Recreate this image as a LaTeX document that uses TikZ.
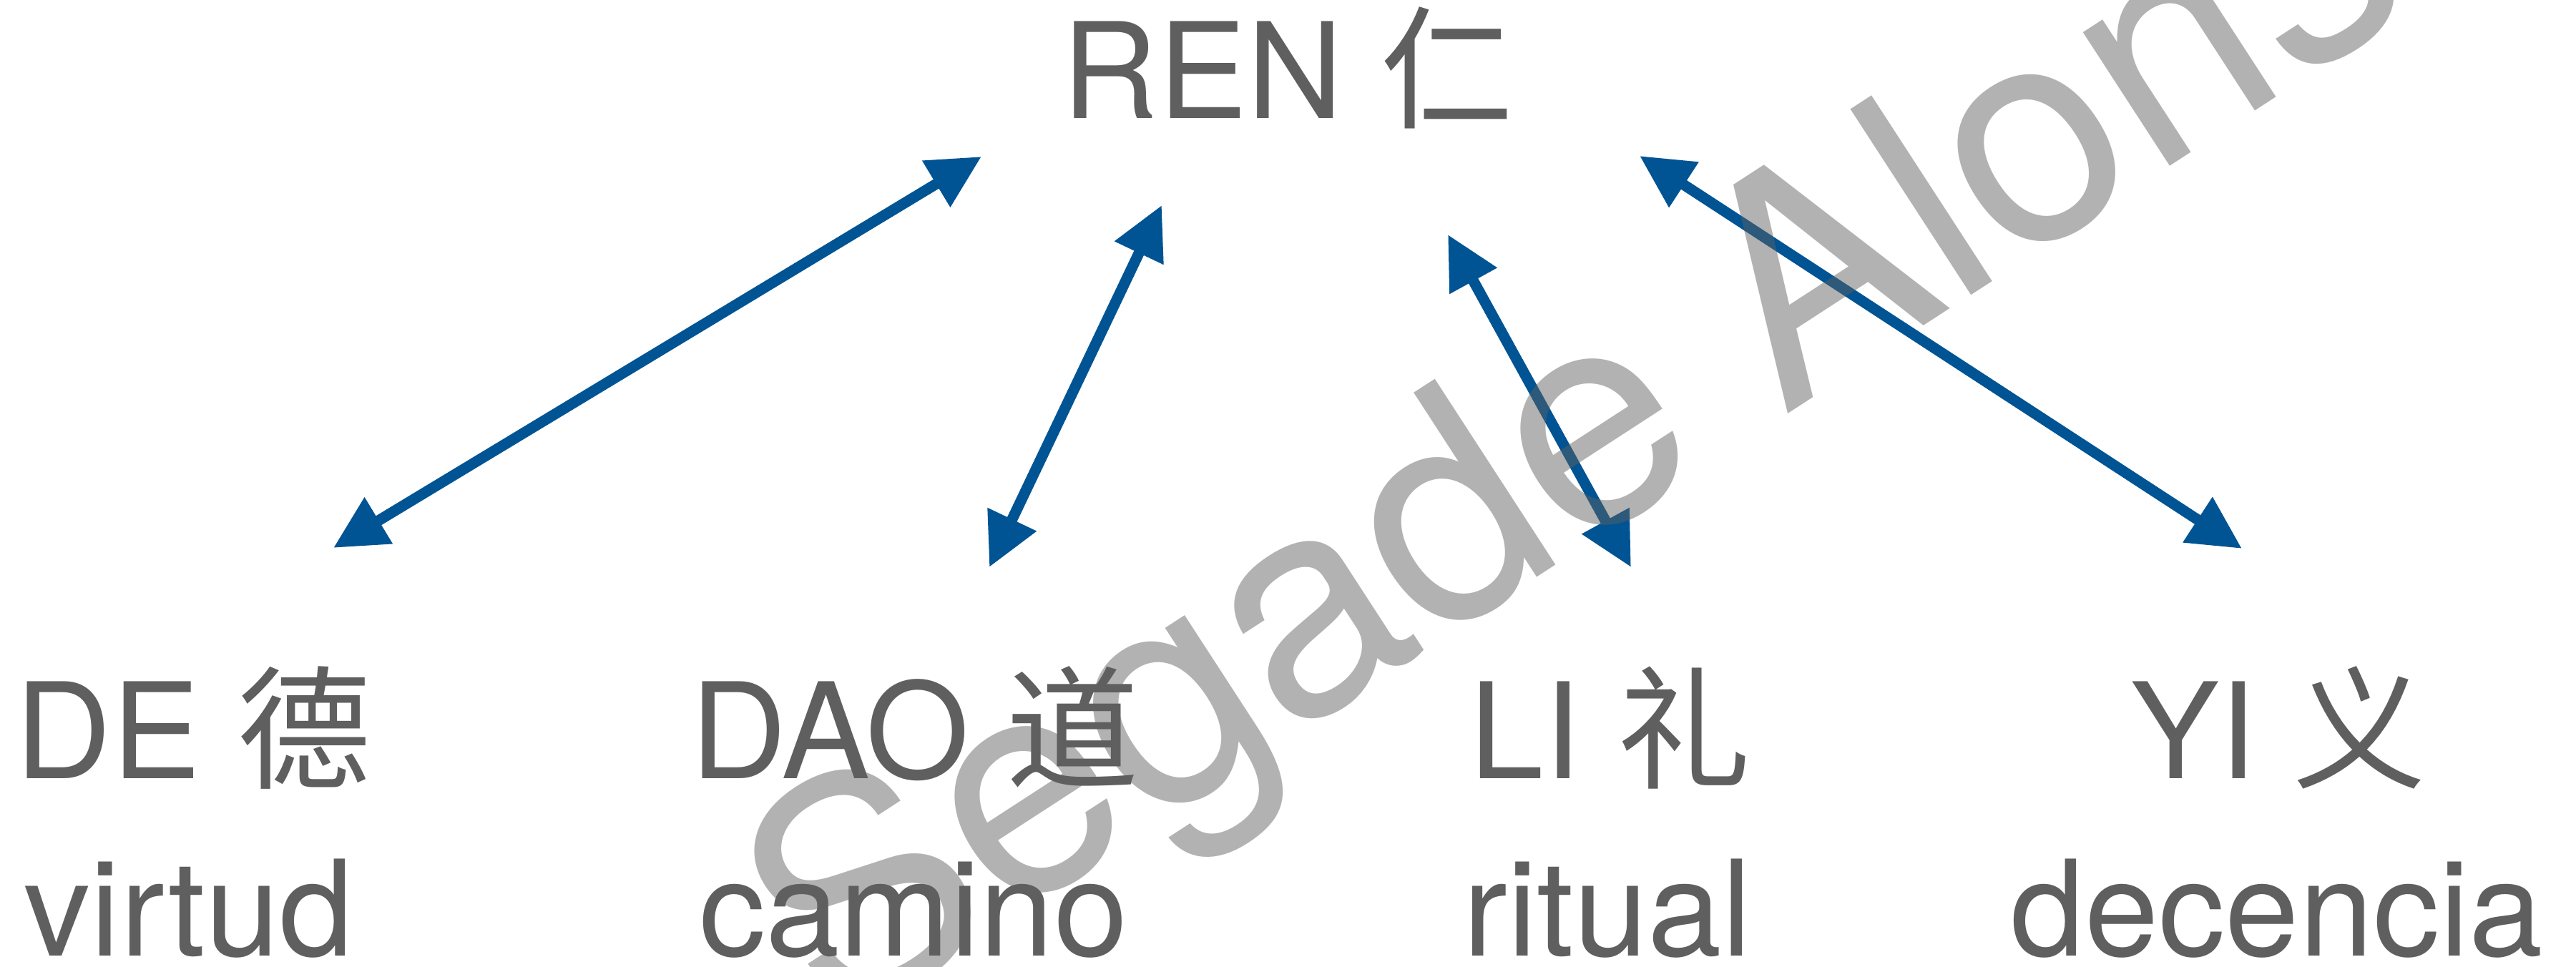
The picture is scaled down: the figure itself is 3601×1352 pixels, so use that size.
\documentclass[tikz,border=0pt]{standalone}
\usepackage{fontspec}
\setmainfont{TeX Gyre Heros}
\newfontfamily\cjk{Noto Sans CJK SC}
\usetikzlibrary{arrows.meta}
\definecolor{txtgray}{RGB}{95,95,95}
\definecolor{arrblue}{RGB}{0,84,147}
\tikzset{
  lbl/.style={anchor=base, inner sep=0pt, text=txtgray, font=\fontsize{18.6pt}{22pt}\selectfont},
  link/.style={draw=arrblue, line width=1.5pt, {Triangle[length=7.4pt,width=7.2pt]}-{Triangle[length=7.4pt,width=7.2pt]}},
  wmark/.style={anchor=base west, inner sep=0pt, rotate=33, text=txtgray, text opacity=0.48, font=\fontsize{42.5pt}{50pt}\selectfont}
}
\begin{document}
\begin{tikzpicture}[x=0.1pt,y=-0.1pt]
\useasboundingbox (0,0) rectangle (3601,1352);
\node[lbl] (ren) at (1800,166) {REN {\cjk 仁}};
\node[lbl] (de) at (270,1089) {DE {\cjk 德}};
\node[lbl] (virtud) at (264,1337) {virtud};
\node[lbl] (dao) at (1279,1089) {DAO {\cjk 道}};
\node[lbl] (camino) at (1277,1337) {camino};
\node[lbl] (li) at (2251,1089) {LI {\cjk 礼}};
\node[lbl] (ritual) at (2247,1337) {ritual};
\node[lbl] (yi) at (3185,1089) {YI {\cjk 义}};
\node[lbl] (decencia) at (3183,1337) {decencia};
\coordinate (a1s) at (466,766);
\coordinate (a1e) at (1372,219);
\coordinate (a2s) at (1383,793);
\coordinate (a2e) at (1624,287);
\coordinate (a3s) at (2024,328);
\coordinate (a3e) at (2280,793);
\coordinate (a4s) at (2292,218);
\coordinate (a4e) at (3134,767);
\draw[link] (a1s) -- (a1e);
\draw[link] (a2s) -- (a2e);
\draw[link] (a3s) -- (a3e);
\draw[link] (a4s) -- (a4e);
\begin{scope}
\clip (0,0) rectangle (3601,1352);
\node[wmark] (wm) at (1166,1445) {Segade Alonso};
\end{scope}
\end{tikzpicture}
\end{document}
